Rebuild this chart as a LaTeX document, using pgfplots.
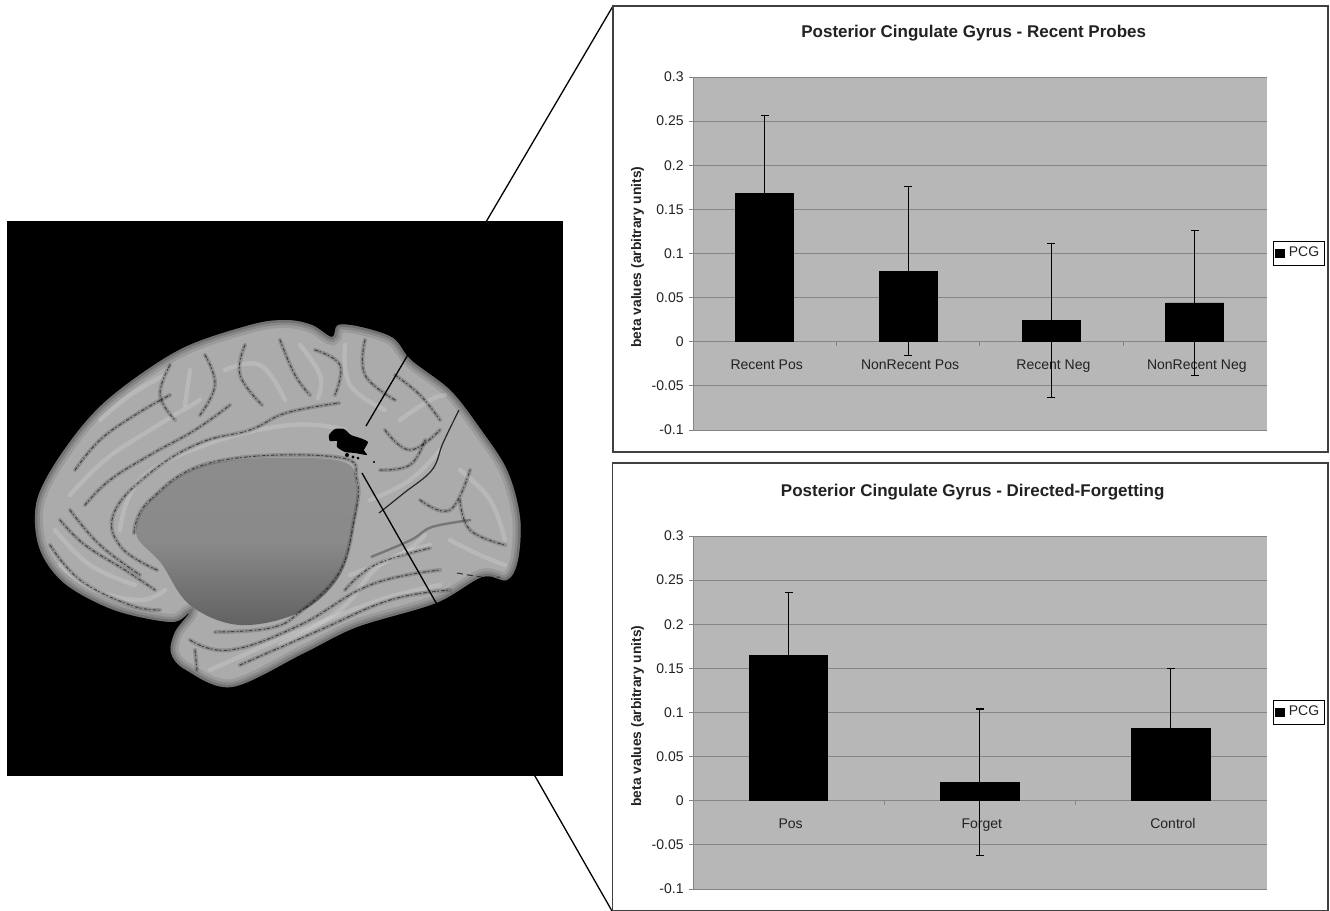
\documentclass[border=0pt]{standalone}
\usepackage{fontspec}
\setmainfont{Liberation Sans}
\usepackage{pgfplots}
\pgfplotsset{compat=1.18}
\usepackage{pgfplotstable}

\definecolor{plotbg}{HTML}{B7B7B7}
\definecolor{gridc}{HTML}{858585}
\definecolor{txt}{HTML}{222222}

% one picture unit = one reference pixel = 0.5pt
\pgfplotstableread{
x y e
0 0.168 0.088
1 0.080 0.096
2 0.024 0.087
3 0.044 0.082
}\probes
\pgfplotstableread{
x y e
0 0.165 0.071
1 0.021 0.083
2 0.082 0.068
}\forget

\pgfplotsset{
    every axis title shift=0pt,
    betachart/.style={
        scale only axis,
        width=286.75pt,
        height=176.5pt,
        anchor=south west,
        ymin=-0.1, ymax=0.3,
        ytick={-0.1,-0.05,0,0.05,0.1,0.15,0.2,0.25,0.3},
        yticklabels={-0.1,-0.05,0,0.05,0.1,0.15,0.2,0.25,0.3},
        axis x line=middle,
        axis y line=left,
        hide obscured x ticks=false,
        x axis line style={-,gridc},
        y axis line style={-,gridc},
        axis background/.style={fill=plotbg},
        ymajorgrids,
        major grid style={gridc,line width=0.5pt},
        tick style={gridc,line width=0.4pt},
        tick align=outside,
        major tick length=2pt,
        minor tick length=2pt,
        major x tick style={draw=none},
        xtick=data,
        tick label style={font=\fontsize{7}{8}\selectfont,text=txt},
        xticklabel style={yshift=-5.5pt,xshift=1pt,inner sep=1pt,text height=5.2pt,text depth=1.5pt},
        yticklabel style={xshift=-1.5pt,inner sep=1pt},
        every axis y label/.style={
            at={(axis description cs:-0.0968,0.49)},rotate=90,anchor=center},
        ylabel={beta values (arbitrary units)},
        ylabel style={font=\fontsize{6.9}{8}\selectfont\bfseries,text=txt},
        legend style={
            at={(axis description cs:1.0567,0.5)},
            anchor=center,
            draw=black,
            line width=0.4pt,
            fill=white,
            font=\fontsize{7}{8}\selectfont,
            text=txt,
            inner sep=0.7pt,
            /tikz/every even column/.style={column sep=0pt},
            legend cell align=left
        },
        legend image code/.code={
            \fill[black] (1pt,-2pt) rectangle (5.6pt,2pt);
        },
    },
    betabars/.style={
        ybar,
        fill=black,
        draw=black,
        error bars/.cd,
            y dir=both,
            y explicit,
            error bar style={black,line width=0.55pt},
            error mark options={black,rotate=90,mark size=2pt,line width=0.55pt},
    },
}

\pgfdeclareverticalshading{corpus}{100bp}{
    color(0bp)=(black!76); color(28bp)=(black!60); color(50bp)=(black!46);
    color(100bp)=(black!44)}

\tikzset{
    sulc/.style={line cap=round,line join=round},
}
\newcommand{\sulcus}[1]{%
    \draw[black,opacity=0.16,line width=2pt,sulc] plot[smooth,tension=0.7] coordinates {#1};
    \draw[black,opacity=0.55,line width=0.5pt,dash pattern=on 1.5pt off 1pt on 0.5pt off 1.5pt,sulc] plot[smooth,tension=0.7] coordinates {#1};
}
\newcommand{\ridge}[1]{%
    \draw[white,opacity=0.16,line width=2.2pt,sulc] plot[smooth,tension=0.7] coordinates {#1};
}

\begin{document}
\begin{tikzpicture}[x=0.5pt,y=-0.5pt]
\useasboundingbox (0,0) rectangle (1330,911);
\fill[white] (0,0) rectangle (1330,911);

% brain panel
\fill[black] (7,221) rectangle (563,776);
\begin{scope}
    \def\brainpath{plot[smooth cycle,tension=0.55] coordinates {
        (286,320) (312,325) (332,337) (338,325) (361,327) (393,338) (411,360)
        (450,390) (479,427) (507,470) (520,517) (518,560) (507,580) (482,577)
        (436,603) (357,627) (304,653) (232,687) (186,670) (171,653) (175,632)
        (189,613) (171,622) (114,610) (64,583) (39,547) (37,500) (64,450)
        (107,400) (179,350) (250,325)}}
    \fill[fill=black!33] \brainpath;
    \clip \brainpath;
    \draw[black,opacity=0.09,line width=8pt] \brainpath;
    \draw[black,opacity=0.12,line width=5pt] \brainpath;
    \draw[black,opacity=0.16,line width=2.5pt] \brainpath;
    % corpus region
    \shade[shading=corpus]
        plot[smooth cycle,tension=0.6] coordinates {
        (136,533) (154,497) (214,463) (336,460) (357,487) (354,527) (339,577)
        (300,612) (240,625) (190,605) (161,563)};
    % gyri highlights
    \ridge{(60,565) (95,590) (140,600) (165,590)}
    \ridge{(55,530) (90,565) (135,585)}
    \ridge{(70,495) (105,460) (150,430) (200,400)}
    \ridge{(120,530) (140,480) (205,445) (290,425) (345,430)}
    \ridge{(225,370) (260,365) (285,400)}
    \ridge{(190,370) (185,405)}
    \ridge{(100,420) (130,395) (165,375)}
    \ridge{(300,345) (320,375) (318,398)}
    \ridge{(345,345) (350,385) (385,410)}
    \ridge{(400,420) (430,400) (445,395)}
    \ridge{(370,500) (410,480) (440,450)}
    \ridge{(460,470) (490,500) (505,540)}
    \ridge{(450,540) (480,555) (505,565)}
    \ridge{(280,645) (340,610) (380,565) (430,545)}
    \ridge{(210,670) (290,635) (380,600) (440,585)}
    \ridge{(350,575) (400,555) (425,535)}
    % sulci
    \sulcus{(157,570) (121,547) (114,513) (150,473) (200,443) (250,430) (286,413) (339,403)}
    \sulcus{(134,533) (150,500) (214,462) (336,457) (357,480) (354,520) (339,573) (300,612) (270,628) (215,632)}
    \sulcus{(75,470) (100,440) (135,415) (170,395)}
    \sulcus{(85,505) (110,480) (150,455) (195,430) (230,405)}
    \sulcus{(60,520) (85,545) (125,570) (155,590)}
    \sulcus{(50,545) (80,580) (130,605) (160,610)}
    \sulcus{(70,510) (100,545) (140,575)}
    \sulcus{(205,355) (215,385) (200,415)}
    \sulcus{(170,365) (160,395) (175,420)}
    \sulcus{(245,345) (240,375) (262,405)}
    \sulcus{(280,340) (295,375) (310,395)}
    \sulcus{(315,350) (340,365) (335,395)}
    \sulcus{(365,340) (365,375) (395,400)}
    \sulcus{(395,375) (420,395) (440,420)}
    \sulcus{(385,430) (410,450) (440,430)}
    \sulcus{(380,470) (410,465) (425,440)}
    \sulcus{(460,500) (470,530) (505,545)}
    \sulcus{(420,500) (450,510) (470,470)}
    \sulcus{(190,640) (230,650) (300,625) (370,585) (440,570)}
    \sulcus{(195,650) (197,670)}
    \sulcus{(240,665) (320,630) (390,600) (450,590)}
    \sulcus{(345,590) (375,565) (430,548)}
    \draw[black!85,line width=0.6pt] plot[smooth,tension=0.6] coordinates {
        (459,410) (443,443) (432,470) (404,493) (379,513)};
    \draw[black,opacity=0.3,line width=1.2pt] plot[smooth,tension=0.6] coordinates {
        (371,557) (411,540) (432,527) (471,520)};
    \draw[black!80,line width=0.5pt,densely dashed] plot[smooth] coordinates {
        (457,573) (482,577) (500,577)};
\end{scope}
% activation cluster
\fill[black] plot[smooth cycle,tension=0.4] coordinates {
    (329,435) (335,429) (344,429) (351,435) (360,438) (368,442) (364,450)
    (367,455) (355,453) (345,452) (337,447) (337,441) (330,441)};
\fill[black] (347,455) circle (2) (353,457) circle (1.6) (358,458) circle (1.5)
    (374,462) circle (1.2);

% connector lines
\draw[black,line width=0.65pt] (613,6) -- (366,426);
\draw[black,line width=0.65pt] (362,473) -- (612,911);

% chart frames
\draw[black!75,line width=0.75pt,fill=white] (613,6) rectangle (1328,452);
\draw[black!75,line width=0.75pt,fill=white] (612.5,463) rectangle (1328,910.5);

% top chart
\begin{axis}[
    betachart,
    at={(346.5pt,-215pt)},
    xmin=-0.5, xmax=3.5,
    minor xtick={0.5,1.5,2.5},
    xticklabels={Recent Pos,NonRecent Pos,Recent Neg,NonRecent Neg},
    title={Posterior Cingulate Gyrus - Recent Probes},
    title style={at={(axis description cs:0.4895,1.125)},anchor=center,
        font=\fontsize{8.5}{10}\selectfont\bfseries,text=txt},
]
\addplot[bar width=29pt,betabars] table[x=x,y=y,y error=e] {\probes};
\addlegendentry{PCG}
\end{axis}

% bottom chart
\begin{axis}[
    betachart,
    at={(346.5pt,-444.5pt)},
    xmin=-0.5, xmax=2.5,
    minor xtick={0.5,1.5},
    xticklabels={Pos,Forget,Control},
    title={Posterior Cingulate Gyrus - Directed-Forgetting},
    title style={at={(axis description cs:0.4877,1.125)},anchor=center,
        font=\fontsize{8.5}{10}\selectfont\bfseries,text=txt},
]
\addplot[bar width=39.25pt,betabars] table[x=x,y=y,y error=e] {\forget};
\addlegendentry{PCG}
\end{axis}
\end{tikzpicture}
\end{document}
